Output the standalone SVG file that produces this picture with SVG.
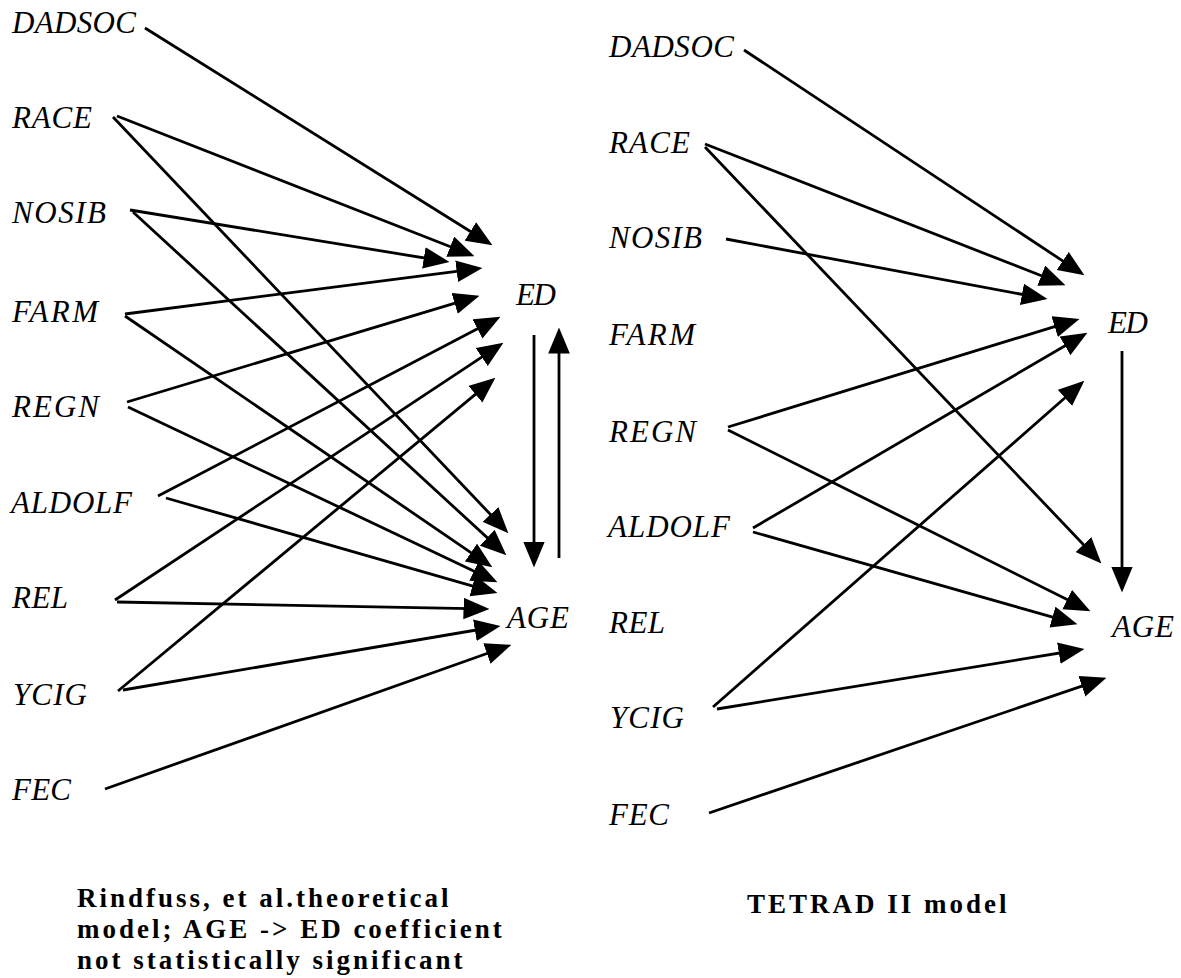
<svg xmlns="http://www.w3.org/2000/svg" width="1181" height="978" viewBox="0 0 1181 978">
<style>
.lbl{font-family:"Liberation Serif","Times New Roman",serif;font-style:italic;font-size:31px;fill:#000}
.cap{font-family:"Liberation Serif","Times New Roman",serif;font-weight:bold;font-size:27px;letter-spacing:3px;fill:#000}
.e{stroke:#000;stroke-width:2.8;fill:none;marker-end:url(#ah)}
</style>
<defs>
<marker id="ah" markerUnits="userSpaceOnUse" markerWidth="26" markerHeight="22" refX="18" refY="10" orient="auto" viewBox="0 0 24 20">
<path d="M0,0 L24,10 L0,20 z" fill="#000"/>
</marker>
</defs>
<rect width="1181" height="978" fill="#fff"/>
<g id="connectors">
<line class="e" x1="145" y1="28" x2="486.9" y2="241.8"/>
<line class="e" x1="117" y1="116" x2="468.4" y2="253.8"/>
<line class="e" x1="113" y1="117" x2="503.9" y2="528.6"/>
<line class="e" x1="130" y1="210" x2="443.1" y2="261.0"/>
<line class="e" x1="133" y1="212" x2="501.6" y2="550.9"/>
<line class="e" x1="125" y1="314" x2="476.0" y2="268.8"/>
<line class="e" x1="125" y1="316" x2="487.0" y2="563.6"/>
<line class="e" x1="127" y1="402" x2="473.3" y2="297.7"/>
<line class="e" x1="128" y1="407" x2="491.6" y2="579.4"/>
<line class="e" x1="158" y1="496" x2="494.7" y2="319.8"/>
<line class="e" x1="166" y1="498" x2="491.2" y2="591.3"/>
<line class="e" x1="115" y1="600" x2="498.0" y2="346.3"/>
<line class="e" x1="117" y1="602" x2="483.0" y2="608.9"/>
<line class="e" x1="118" y1="691" x2="490.4" y2="381.8"/>
<line class="e" x1="123" y1="690" x2="494.1" y2="627.0"/>
<line class="e" x1="105" y1="789" x2="505.3" y2="647.0"/>
<line class="e" x1="534" y1="335" x2="534" y2="561"/>
<line class="e" x1="559" y1="558" x2="559" y2="334"/>
<line class="e" x1="744" y1="50" x2="1079.0" y2="271.7"/>
<line class="e" x1="705" y1="144" x2="1059.4" y2="282.8"/>
<line class="e" x1="705" y1="147" x2="1096.9" y2="558.7"/>
<line class="e" x1="726" y1="239" x2="1041.1" y2="297.9"/>
<line class="e" x1="728" y1="427" x2="1073.3" y2="320.8"/>
<line class="e" x1="728" y1="430" x2="1084.6" y2="608.3"/>
<line class="e" x1="753" y1="528" x2="1081.8" y2="336.0"/>
<line class="e" x1="753" y1="532" x2="1071.2" y2="622.4"/>
<line class="e" x1="713" y1="707" x2="1079.5" y2="385.0"/>
<line class="e" x1="717" y1="709" x2="1078.1" y2="650.0"/>
<line class="e" x1="709" y1="813" x2="1100.3" y2="679.9"/>
<line class="e" x1="1122" y1="351" x2="1122" y2="586"/>
</g>
<g id="L-DADSOC"><text class="lbl" x="12" y="33" textLength="124">DADSOC</text></g>
<g id="L-RACE"><text class="lbl" x="12" y="128" textLength="80">RACE</text></g>
<g id="L-NOSIB"><text class="lbl" x="12" y="223" textLength="94">NOSIB</text></g>
<g id="L-FARM"><text class="lbl" x="12" y="322" textLength="86">FARM</text></g>
<g id="L-REGN"><text class="lbl" x="12" y="417" textLength="87">REGN</text></g>
<g id="L-ALDOLF"><text class="lbl" x="11" y="513" textLength="121">ALDOLF</text></g>
<g id="L-REL"><text class="lbl" x="12" y="608" textLength="56">REL</text></g>
<g id="L-YCIG"><text class="lbl" x="13" y="705" textLength="74">YCIG</text></g>
<g id="L-FEC"><text class="lbl" x="12" y="800" textLength="59">FEC</text></g>
<g id="L-ED"><text class="lbl" x="516" y="305" textLength="40">ED</text></g>
<g id="L-AGE"><text class="lbl" x="507" y="628" textLength="62">AGE</text></g>
<g id="R-DADSOC"><text class="lbl" x="609" y="57" textLength="125">DADSOC</text></g>
<g id="R-RACE"><text class="lbl" x="609" y="153" textLength="81">RACE</text></g>
<g id="R-NOSIB"><text class="lbl" x="609" y="248" textLength="93">NOSIB</text></g>
<g id="R-FARM"><text class="lbl" x="609" y="345" textLength="86">FARM</text></g>
<g id="R-REGN"><text class="lbl" x="609" y="442" textLength="87">REGN</text></g>
<g id="R-ALDOLF"><text class="lbl" x="608" y="537" textLength="122">ALDOLF</text></g>
<g id="R-REL"><text class="lbl" x="609" y="633" textLength="56">REL</text></g>
<g id="R-YCIG"><text class="lbl" x="610" y="728" textLength="74">YCIG</text></g>
<g id="R-FEC"><text class="lbl" x="609" y="825" textLength="60">FEC</text></g>
<g id="R-ED"><text class="lbl" x="1108" y="333" textLength="40">ED</text></g>
<g id="R-AGE"><text class="lbl" x="1112" y="637" textLength="62">AGE</text></g>
<g id="captions">
<text class="cap" x="77" y="907">Rindfuss, et al.theoretical</text>
<text class="cap" x="77" y="938">model; AGE -&gt; ED coefficient</text>
<text class="cap" x="77" y="969">not statistically significant</text>
<text class="cap" x="747" y="913">TETRAD II model</text>
</g>
</svg>
